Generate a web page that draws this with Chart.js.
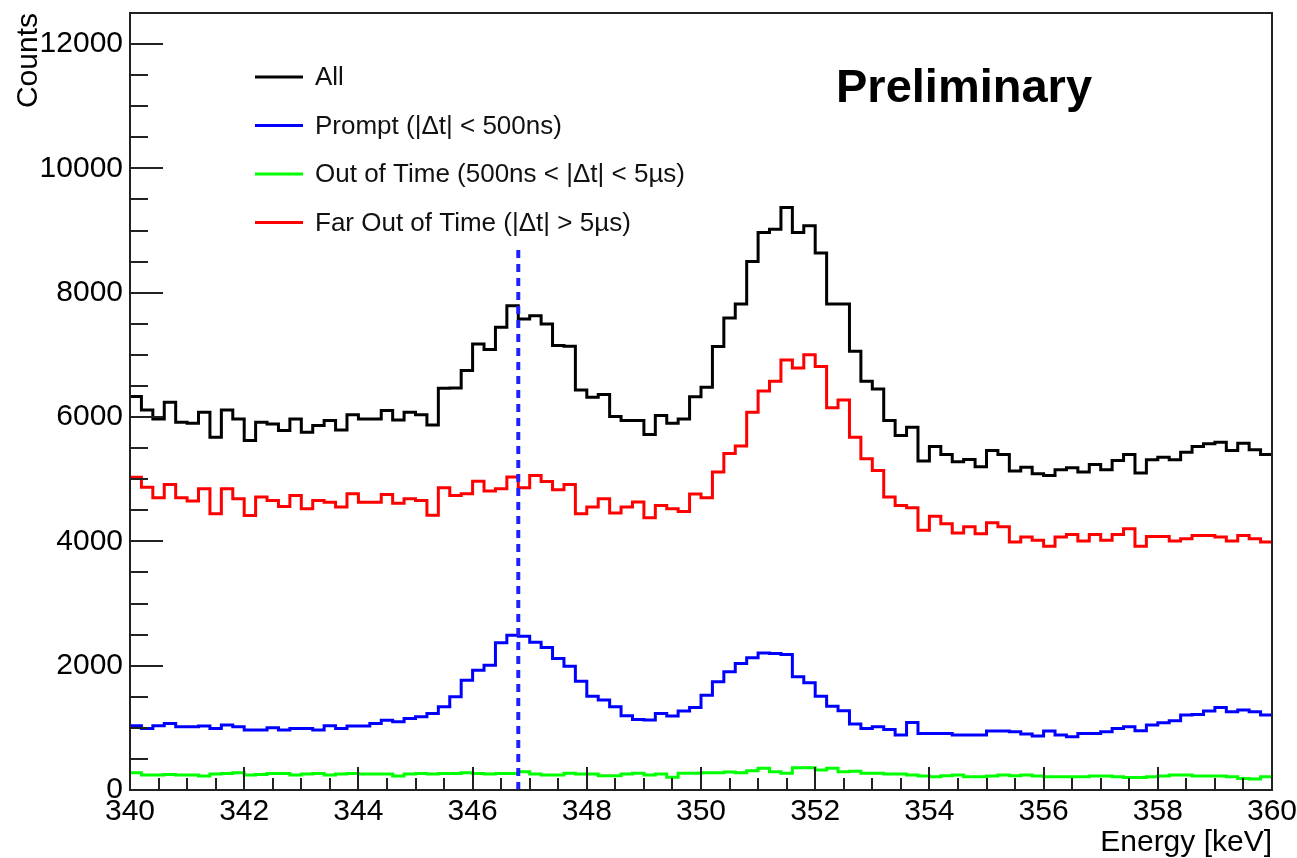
<!DOCTYPE html>
<html>
<head>
<meta charset="utf-8">
<title>Energy spectrum</title>
<script src="https://cdn.jsdelivr.net/npm/chart.js@4.4.1/dist/chart.umd.min.js"></script>
<style>
  body { margin: 0; background: #fff; }
  canvas { display: block; }
</style>
</head>
<body>
<canvas id="spectrum" width="1297" height="858"></canvas>
<script>
// histogram binning: 100 bins of 0.2 keV starting at 340 keV
var binLow = 340;
var binWidth = 0.2;

var allCounts = [
  6329, 6115, 5970, 6238, 5917, 5900, 6077, 5676, 6115, 5970,
  5622, 5917, 5890, 5783, 5970, 5756, 5863, 5943, 5793, 6035,
  5970, 5970, 6104, 5954, 6077, 6035, 5870, 6465, 6469, 6747,
  7176, 7085, 7443, 7791, 7577, 7631, 7497, 7149, 7138, 6437,
  6319, 6362, 6008, 5944, 5944, 5719, 6024, 5901, 5970, 6325,
  6480, 7133, 7593, 7818, 8504, 8970, 9023, 9371, 8970, 9077,
  8638, 7818, 7818, 7058, 6576, 6453, 5944, 5703, 5837, 5291,
  5526, 5398, 5280, 5315, 5200, 5460, 5397, 5130, 5194, 5087,
  5060, 5151, 5183, 5114, 5237, 5151, 5301, 5397, 5098, 5312,
  5355, 5312, 5435, 5526, 5569, 5596, 5462, 5580, 5472, 5397
];

var promptCounts = [
  1033, 990, 1033, 1071, 1017, 1017, 1028, 990, 1044, 1017,
  964, 964, 1001, 964, 990, 990, 964, 1033, 990, 1028,
  1028, 1071, 1124, 1097, 1151, 1178, 1231, 1338, 1499, 1767,
  1928, 2008, 2367, 2490, 2474, 2375, 2292, 2115, 1992, 1751,
  1510, 1446, 1339, 1194, 1135, 1125, 1232, 1189, 1269, 1328,
  1526, 1740, 1901, 2035, 2126, 2206, 2196, 2179, 1821, 1724,
  1510, 1349, 1274, 1060, 991, 1017, 975, 884, 1085, 910,
  910, 910, 883, 883, 883, 948, 948, 937, 900, 867,
  948, 883, 857, 910, 910, 937, 990, 1017, 953, 1044,
  1082, 1114, 1205, 1215, 1269, 1328, 1258, 1285, 1258, 1205
];

var outOfTimeCounts = [
  278, 241, 241, 251, 241, 241, 225, 257, 267, 278,
  241, 251, 267, 267, 241, 257, 267, 241, 257, 267,
  257, 257, 257, 225, 257, 267, 257, 267, 267, 278,
  267, 257, 267, 267, 294, 257, 241, 241, 268, 257,
  257, 230, 230, 257, 268, 241, 257, 204, 268, 268,
  278, 278, 289, 278, 310, 348, 294, 268, 359, 359,
  321, 348, 294, 300, 268, 268, 257, 257, 241, 225,
  214, 230, 241, 214, 214, 225, 241, 230, 241, 225,
  214, 214, 214, 214, 225, 225, 214, 203, 203, 214,
  225, 241, 241, 225, 225, 225, 214, 187, 177, 214
];

var farOutCounts = [
  5033, 4872, 4701, 4915, 4701, 4648, 4846, 4444, 4846, 4685,
  4417, 4712, 4658, 4562, 4739, 4524, 4658, 4631, 4551, 4765,
  4631, 4631, 4755, 4615, 4685, 4658, 4420, 4862, 4739, 4766,
  4969, 4809, 4846, 5034, 4862, 5060, 4964, 4830, 4916, 4445,
  4552, 4686, 4455, 4552, 4632, 4380, 4578, 4525, 4480, 4760,
  4702, 5114, 5414, 5534, 6078, 6420, 6576, 6919, 6790, 7004,
  6812, 6148, 6276, 5676, 5328, 5141, 4712, 4578, 4541, 4177,
  4402, 4284, 4134, 4236, 4123, 4300, 4235, 3989, 4070, 4016,
  3920, 4070, 4112, 4005, 4112, 4016, 4112, 4203, 3920, 4080,
  4080, 4005, 4043, 4096, 4096, 4070, 4005, 4096, 4043, 3989
];

var seriesNames = [
  'All',
  'Prompt (|\u0394t| < 500ns)',
  'Out of Time (500ns < |\u0394t| < 5\u00b5s)',
  'Far Out of Time (|\u0394t| > 5\u00b5s)'
];

var xTickLabels = [340, 342, 344, 346, 348, 350, 352, 354, 356, 358, 360];
var yTickLabels = [0, 2000, 4000, 6000, 8000, 10000, 12000];

// dashed marker at the 347 keV line
var markerEnergy = 346.8;
var markerTop = 8750;

function histPoints(counts){
    let pts = counts.map((c, i) => ({x: binLow + i * binWidth, y: c}));
    pts.push({x: binLow + counts.length * binWidth, y: counts[counts.length - 1]}); // close last bin
    return pts;
}

function histDataset(label, counts, colour){
    return {
        label: label,
        data: histPoints(counts),
        borderColor: colour,
        borderWidth: 3,
        stepped: 'before', // hold each bin value up to the next bin edge
        pointRadius: 0,
        fill: false
    };
}

var FONT = "'Liberation Sans', Arial, sans-serif";
Chart.defaults.font.family = FONT;
Chart.defaults.color = '#000';

// ROOT style frame: box, inward ticks, legend without border and the label
var rootFrame = {
    id: 'rootFrame',
    afterDraw(chart) {
        const ctx = chart.ctx;
        const area = chart.chartArea;
        const xs = chart.scales.x, ys = chart.scales.y;
        ctx.save();

        ctx.strokeStyle = '#222';
        ctx.lineWidth = 2;
        ctx.strokeRect(area.left, area.top, area.right - area.left, area.bottom - area.top);

        ctx.beginPath();
        for (let k = 0; k * 500 <= ys.max; k++) {
            const y = Math.round(ys.getPixelForValue(k * 500));
            const len = (k % 4 === 0) ? 33 : 18;
            ctx.moveTo(area.left, y);
            ctx.lineTo(area.left + len, y);
        }
        for (let k = 0; xs.min + k * 0.5 <= xs.max + 1e-9; k++) {
            const x = Math.round(xs.getPixelForValue(xs.min + k * 0.5));
            const len = (k % 4 === 0) ? 23 : 12;
            ctx.moveTo(x, area.bottom);
            ctx.lineTo(x, area.bottom - len);
        }
        ctx.stroke();

        // legend
        ctx.font = '26px ' + FONT;
        ctx.textBaseline = 'middle';
        ctx.textAlign = 'left';
        for (let i = 0; i < seriesNames.length; i++) {
            const ds = chart.data.datasets[i];
            const y = area.top + 64 + i * 48.5;
            ctx.strokeStyle = ds.borderColor;
            ctx.lineWidth = 3;
            ctx.beginPath();
            ctx.moveTo(area.left + 125, y);
            ctx.lineTo(area.left + 173, y);
            ctx.stroke();
            ctx.fillStyle = '#111';
            ctx.fillText(ds.label, area.left + 185, y + 1);
        }

        ctx.font = 'bold 47px ' + FONT;
        ctx.textBaseline = 'alphabetic';
        ctx.fillStyle = '#000';
        ctx.fillText('Preliminary', 836, 102);
        ctx.restore();
    }
};

var spectrumCanvas = document.getElementById('spectrum');
var spectrumChart = new Chart(spectrumCanvas, {
    type: 'line',
    data: {
        datasets: [
            histDataset(seriesNames[0], allCounts, '#000000'),
            histDataset(seriesNames[1], promptCounts, '#0000ff'),
            histDataset(seriesNames[2], outOfTimeCounts, '#00ff00'),
            histDataset(seriesNames[3], farOutCounts, '#ff0000'),
            {
                label: 'marker',
                data: [{x: markerEnergy, y: 0}, {x: markerEnergy, y: markerTop}],
                borderColor: '#2020ff',
                borderWidth: 4,
                borderDash: [8, 6],
                pointRadius: 0,
                fill: false,
                order: -1
            }
        ]
    },
    options: {
        responsive: false,
        animation: false,
        layout: { padding: { top: 13, right: 25, left: 0, bottom: 0 } },
        plugins: {
            legend: { display: false },
            tooltip: { enabled: false }
        },
        scales: {
            x: {
                type: 'linear',
                min: 340,
                max: 360,
                afterBuildTicks: (axis) => { axis.ticks = xTickLabels.map(v => ({value: v})); },
                afterFit: (axis) => {
                    axis.height = 68;
                    axis.paddingLeft = 0;
                    axis.paddingRight = 0;
                },
                grid: { display: false, drawTicks: false },
                border: { display: false },
                ticks: {
                    font: { size: 30 },
                    color: '#000',
                    padding: 4,
                    maxRotation: 0,
                    autoSkip: false,
                    callback: (v) => String(v)
                },
                title: {
                    display: true,
                    text: 'Energy [keV]',
                    align: 'end',
                    font: { size: 30 },
                    color: '#000',
                    padding: { top: 0, bottom: -3 }
                }
            },
            y: {
                type: 'linear',
                min: 0,
                max: 12500,
                afterBuildTicks: (axis) => { axis.ticks = yTickLabels.map(v => ({value: v})); },
                afterFit: (axis) => {
                    axis.width = 130;
                    axis.paddingTop = 0;
                    axis.paddingBottom = 0;
                },
                grid: { display: false, drawTicks: false },
                border: { display: false },
                ticks: {
                    font: { size: 30 },
                    color: '#000',
                    padding: 7,
                    callback: (v) => String(v)
                },
                title: {
                    display: true,
                    text: 'Counts',
                    align: 'end',
                    font: { size: 30 },
                    color: '#000',
                    padding: { top: 11, bottom: 0 }
                }
            }
        }
    },
    plugins: [rootFrame]
});
</script>
</body>
</html>
